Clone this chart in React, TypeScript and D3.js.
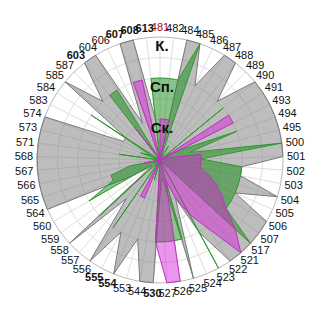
import React from 'react';
import * as d3 from 'd3';

const categories = ["481","482","484","485","486","487","488","489","490","491","493","494","495","500","501","502","503","504","505","506","507","517","521","522","523","524","525","526","527","530","544","553","554","555","556","557","558","559","560","564","565","566","567","568","571","573","574","583","584","585","587","603","604","606","607","608","613"];

const grayValues = [0,0,6,6,4,6,6,4,6,6,6,6,6,6,6,4,4,6,4,6,6,6,6,6,4,2,6,1,1,6,6,4,6,4,6,2.5,6,0.5,1.5,6,6,6,6,6,6,6,6,2,2,6,4,6,6,2,6,6,2];
const greenValues = [4,4,4,6,0,0.8,0,0,4,0,1,4,1.5,6,2,4,4,4,4,4,4,6,0,0,6,0,4,4,4,4,0,1,0,0,4,0,4,0,4,2.5,2.5,1.5,0,0,2,0,1,0.5,4,0,0,4,4,0,0,0,4];
const magentaValues = [2,2,2,0,0,0,0,0,0,4,4,0,0.5,2,2,2,2,2.5,3,3.5,4,5,6,4,3,2,1,6,6,4,0,0,2,2,0,0,0,0,0,0,0,0.8,0,0,0,0,0,0,0,0,0,2,0,0,4,4,0];

const gridValues = [1,2,3,4,5,6];
const radialLabelValues = [2,4,6];
const radialLabelTexts = ["Ск.","Сп.","К."];
const boldLabels = ["603","607","608","613","530","554","555"];
const redLabels = ["481"];

const series = [
  { values: grayValues, fill: "rgba(128,128,128,0.52)", stroke: "#7a7a7a" },
  { values: greenValues, fill: "rgba(20,140,20,0.5)", stroke: "#2e9a2e" },
  { values: magentaValues, fill: "rgba(215,30,215,0.47)", stroke: "#c030c0" },
];

export default function App() {
  const W = 320, H = 320, cx = 160, cy = 160, R = 123;
  const n = categories.length;
  const r = d3.scaleLinear().domain([0, 6]).range([0, R]);
  const a = d3.scaleLinear().domain([0, n]).range([0, 2 * Math.PI]);
  const line = d3.lineRadial<number>()
    .angle((_d, i) => a(i))
    .radius(d => r(d))
    .curve(d3.curveLinearClosed);

  const labels = categories.map((c, i) => {
    const t = a(i);
    const s = Math.sin(t), co = Math.cos(t);
    const deg = (t * 180) / Math.PI;
    const Rl = 127;
    let x = cx + Rl * s;
    const y = cy - (Rl + 6) * co;
    let anchor: string;
    if (deg <= 20 || deg >= 340 || (deg >= 160 && deg <= 200)) {
      anchor = "middle";
      x += s * 12;
    } else if (s > 0) {
      anchor = "start";
      x -= 5 * co * co;
    } else {
      anchor = "end";
      x += 5 * co * co;
    }
    return { c, x, y, anchor };
  });

  return (
    <svg width={W} height={H} style={{ position: "absolute", left: 0, top: 0, background: "#fff" }}
      fontFamily="'Liberation Sans', Arial, sans-serif">
      <g transform={`translate(${cx},${cy})`}>
        {gridValues.map(v => (
          <circle key={v} r={r(v)} fill="none" stroke={v === 6 ? "#b8b8b8" : "#dedede"} strokeWidth={1} />
        ))}
        {categories.map((c, i) => {
          const t = a(i);
          return (
            <line key={c} x1={0} y1={0} x2={r(6) * Math.sin(t)} y2={-r(6) * Math.cos(t)} stroke="#dedede" strokeWidth={1} />
          );
        })}
        {series.map((s, k) => (
          <path key={k} d={line(s.values) || ""} fill={s.fill} stroke={s.stroke} strokeWidth={1} strokeLinejoin="miter" />
        ))}
      </g>
      {labels.map(l => (
        <text key={l.c} x={l.x} y={l.y} dy="0.35em" textAnchor={l.anchor} fontSize={11}
          fill={redLabels.includes(l.c) ? "#a01010" : "#111"}
          fontWeight={boldLabels.includes(l.c) ? "bold" : "normal"}>{l.c}</text>
      ))}
      {radialLabelValues.map((v, i) => (
        <text key={v} x={cx + 2} y={cy - r(v) + 9} dy="0.35em" textAnchor="middle" fontSize={15}
          fontWeight="bold" fill="#111">{radialLabelTexts[i]}</text>
      ))}
    </svg>
  );
}
